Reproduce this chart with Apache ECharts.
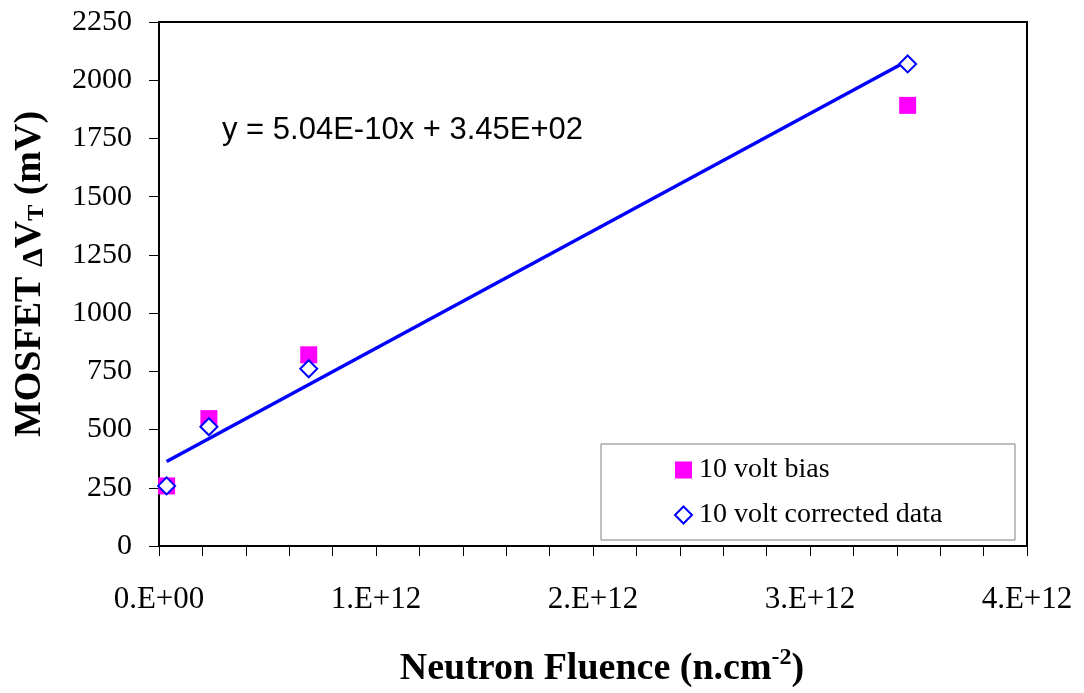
<!DOCTYPE html>
<html>
<head>
<meta charset="utf-8">
<script src="https://cdn.jsdelivr.net/npm/echarts@6/dist/echarts.min.js"></script>
<style>
  html, body { margin: 0; padding: 0; background: #fff; }
  #chart { width: 1084px; height: 693px; }
</style>
</head>
<body>
<div id="chart"></div>
<script>
// Neutron fluence (n/cm^2) for each irradiation step
const fluence = [0.035e12, 0.23e12, 0.69e12, 3.45e12];
// Threshold voltage shift (mV), 10 V bias, as measured
const biasShift = [258, 547, 821, 1892];
// Threshold voltage shift (mV), 10 V bias, corrected
const correctedShift = [258, 512, 761, 2070];
// Linear fit of the corrected data
const fitSlope = 5.04e-10;
const fitIntercept = 345;
const fitLabel = 'y = 5.04E-10x + 3.45E+02';
// Axis tick labels
const xTickLabels = ['0.E+00', '1.E+12', '2.E+12', '3.E+12', '4.E+12'];
const seriesNames = ['10 volt bias', '10 volt corrected data'];

const serif = 'Liberation Serif, Times New Roman, serif';
const sans = 'Liberation Sans, Arial, sans-serif';

const fitX = [fluence[0], fluence[fluence.length - 1]];
const fitLine = fitX.map(x => [x, fitSlope * x + fitIntercept]);

const chart = echarts.init(document.getElementById('chart'), null, { renderer: 'canvas' });

chart.setOption({
  animation: false,
  backgroundColor: '#fff',
  grid: {
    left: 159, right: 57, top: 22, bottom: 145,
    show: true, borderColor: '#000', borderWidth: 2, backgroundColor: '#fff'
  },
  xAxis: {
    type: 'value', min: 0, max: 4e12, interval: 1e12,
    axisLine: { show: true, onZero: false, lineStyle: { color: '#000', width: 2 } },
    axisTick: { show: true, inside: false, length: 10, lineStyle: { color: '#000', width: 1 } },
    minorTick: { show: true, splitNumber: 5, length: 10, lineStyle: { color: '#000', width: 1 } },
    splitLine: { show: false },
    axisLabel: {
      margin: 38, color: '#000', fontFamily: serif, fontSize: 31,
      formatter: v => xTickLabels[Math.round(v / 1e12)]
    },
    name: '{a|Neutron Fluence (n.cm}{sup|-2}{a|)}',
    nameLocation: 'middle', nameGap: 100,
    nameTextStyle: {
      padding: [0, 0, 0, 18],
      rich: {
        a: { fontFamily: serif, fontWeight: 'bold', fontSize: 38, color: '#000', lineHeight: 42, verticalAlign: 'bottom' },
        sup: { fontFamily: serif, fontWeight: 'bold', fontSize: 24, color: '#000', lineHeight: 24, verticalAlign: 'top' }
      }
    }
  },
  yAxis: {
    type: 'value', min: 0, max: 2250, interval: 250,
    axisLine: { show: true, lineStyle: { color: '#000', width: 2 } },
    axisTick: { show: true, inside: false, length: 10, lineStyle: { color: '#000', width: 1 } },
    splitLine: { show: false },
    axisLabel: { margin: 27, color: '#000', fontFamily: serif, fontSize: 30, formatter: v => String(v) },
    name: '{a|MOSFET }{d|Δ}{a|V}{sub|T}{a| (mV)}',
    nameLocation: 'middle', nameGap: 110, nameRotate: 90,
    nameTextStyle: {
      padding: [0, 0, 0, 20],
      rich: {
        a: { fontFamily: serif, fontWeight: 'bold', fontSize: 38, color: '#000', lineHeight: 42, verticalAlign: 'bottom' },
        d: { fontFamily: serif, fontWeight: 'bold', fontSize: 30, color: '#000', lineHeight: 34, verticalAlign: 'bottom' },
        sub: { fontFamily: serif, fontWeight: 'bold', fontSize: 24, color: '#000', lineHeight: 24, verticalAlign: 'bottom' }
      }
    }
  },
  legend: {
    show: true, orient: 'vertical', left: 669, top: 451,
    itemWidth: 17, itemHeight: 17, itemGap: 17,
    textStyle: { fontFamily: serif, fontSize: 28, color: '#000', lineHeight: 28, padding: [0, 0, 0, 2] },
    data: [
      { name: seriesNames[0], icon: 'rect' },
      { name: seriesNames[1], icon: 'diamond' }
    ],
    z: 10
  },
  graphic: [
    {
      type: 'rect', z: 5,
      shape: { x: 601, y: 444, width: 414, height: 96 },
      style: { fill: '#fff', stroke: '#808080', lineWidth: 1 }
    },
    {
      type: 'text', left: 222, top: 115, z: 10,
      style: { text: fitLabel, fontFamily: sans, fontSize: 31, fill: '#000' }
    }
  ],
  series: [
    {
      name: 'fit', type: 'line', data: fitLine,
      showSymbol: false, symbol: 'none',
      lineStyle: { color: '#0000FF', width: 3.5 },
      z: 2, silent: true
    },
    {
      name: seriesNames[0], type: 'scatter',
      data: fluence.map((x, i) => [x, biasShift[i]]),
      symbol: 'rect', symbolSize: 17,
      itemStyle: { color: '#FF00FF', opacity: 1 },
      z: 3
    },
    {
      name: seriesNames[1], type: 'scatter',
      data: fluence.map((x, i) => [x, correctedShift[i]]),
      symbol: 'diamond', symbolSize: 17,
      itemStyle: { color: '#fff', borderColor: '#0000FF', borderWidth: 2, opacity: 1 },
      z: 4
    }
  ]
});
</script>
</body>
</html>
